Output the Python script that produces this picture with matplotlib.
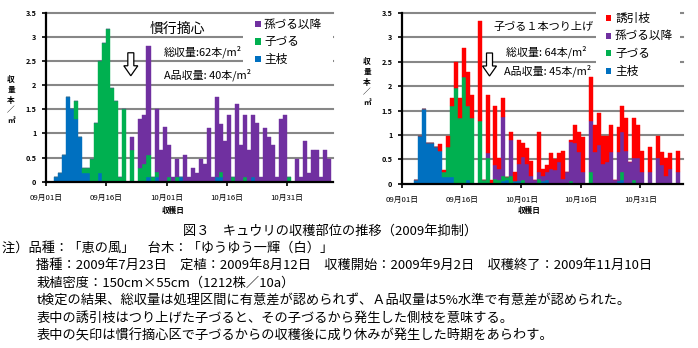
import numpy as np
import matplotlib
matplotlib.use('Agg')
import matplotlib.pyplot as plt
import matplotlib.transforms as mtransforms
from matplotlib.patches import Polygon, Rectangle

plt.rcParams['font.family'] = ['Noto Sans CJK JP', 'DejaVu Sans']

# ---------------- data ----------------
days = np.arange(71)  # days since 09/01
date_ticks = [0, 15, 30, 45, 60]
date_labels = ['09月01日', '09月16日', '10月01日', '10月16日', '10月31日']
y_ticks = [0, 0.5, 1, 1.5, 2, 2.5, 3, 3.5]
y_labels = ['0', '0.5', '1', '1.5', '2', '2.5', '3', '3.5']

series_names = ['主枝', '子づる', '孫づる以降', '誘引枝']
series_colors = ['#0070C0', '#00B050', '#7030A0', '#FF0000']

# left: 慣行摘心
left_main = [0, 0, 0.09, 0.18, 0.55, 1.75, 1.5, 1.3, 0.93, 0.18,
             0.18, 0, 0, 0.18, 0, 0, 0, 0, 0, 0,
             0, 0, 0, 0, 0, 0.1, 0, 0.1, 0, 0,
             0, 0, 0, 0.1, 0, 0, 0, 0, 0, 0,
             0, 0, 0.1, 0.1, 0, 0, 0, 0, 0, 0,
             0, 0.1, 0, 0, 0, 0, 0, 0, 0, 0,
             0, 0, 0, 0, 0, 0, 0, 0, 0, 0,
             0]
left_ko = [0, 0, 0, 0, 0, 0, 0, 0.38, 0, 0.1,
           0.1, 0.47, 1.22, 2.33, 2.88, 3.17, 1.95, 1.68, 0.1, 1.5,
           0, 0.66, 0, 0.28, 0.37, 0.46, 0.1, 0.1, 0, 0,
           0.1, 0, 0.1, 0, 0, 0, 0, 0, 0, 0,
           0, 0, 0, 0.1, 0, 0, 0.1, 0, 0, 0.1,
           0, 0, 0, 0, 0, 0, 0, 0, 0, 0,
           0.1, 0, 0, 0, 0, 0, 0, 0, 0, 0,
           0]
left_mago = [0, 0, 0, 0, 0, 0, 0, 0, 0, 0,
             0, 0, 0, 0, 0, 0, 0, 0, 0, 0,
             0, 0.27, 0, 1.02, 1.01, 2.24, 0, 1.3, 0.66, 1.13,
             0.65, 0.1, 0.38, 0, 0.56, 0.1, 0.28, 0.19, 0.47, 0.37,
             1.12, 0.1, 1.66, 1.0, 0.85, 1.38, 0, 1.6, 0.75, 1.28,
             0.66, 1.28, 1.22, 0.1, 1.12, 0.93, 0.75, 0.1, 1.3, 1.38,
             0, 0, 0.47, 0.1, 0.85, 0.18, 0.66, 0.66, 0.1, 0.66,
             0.47]

# right: 子づる1本つり上げ
right_main = [0, 0, 0, 0.07, 0.98, 1.53, 0.83, 0.83, 0.75, 0.67,
              0.14, 0.14, 0.14, 0, 0, 0, 0.07, 0, 0, 0,
              0, 0, 0, 0, 0, 0.05, 0.07, 0, 0.05, 0.05,
              0, 0, 0, 0, 0, 0.05, 0.07, 0, 0, 0,
              0, 0, 0, 0, 0, 0, 0, 0, 0, 0,
              0, 0, 0, 0, 0.05, 0.08, 0, 0, 0, 0,
              0, 0, 0, 0, 0, 0, 0, 0, 0, 0,
              0]
right_ko = [0, 0, 0, 0, 0, 0, 0, 0, 0, 0,
            0.1, 0.61, 1.45, 1.97, 1.35, 2.19, 1.52, 1.35, 0, 1.29,
            0.07, 0.52, 0, 0.1, 0.07, 0.1, 0.07, 0.16, 0, 0,
            0.07, 0, 0, 0, 0.1, 0, 0, 0, 0, 0,
            0, 0, 0.05, 0, 0, 0, 0, 0.24, 0, 0,
            0, 0, 0, 0, 0, 0.16, 0, 0, 0.07, 0,
            0, 0, 0, 0, 0, 0, 0, 0, 0, 0,
            0]
right_mago = [0, 0, 0, 0, 0, 0, 0, 0, 0, 0,
              0, 0, 0, 0, 0, 0, 0, 0, 0, 0,
              0, 0.1, 0, 0.28, 0.23, 1.21, 0, 0.74, 0, 0.35,
              0.48, 0.4, 0.15, 0.07, 0.15, 0.1, 0.18, 0.3, 0.28, 0.45,
              0.1, 0.25, 0.8, 0.84, 0.66, 0.25, 0, 1.05, 0.66, 0.8,
              0.4, 0.45, 0.66, 0.07, 0.61, 0.83, 0.68, 0.44, 0.46, 0.53,
              0.24, 0, 0.24, 0, 0.53, 0.38, 0.15, 0.3, 0, 0.25,
              0]
right_yuin = [0, 0, 0, 0, 0, 0, 0, 0, 0, 0.15,
              0.05, 0.22, 0.16, 0.53, 0.4, 0.6, 0.7, 0.47, 0, 2.04,
              0, 1.19, 0.07, 1.21, 0.23, 0.39, 0, 0.15, 0.2, 0.5,
              0.28, 0.33, 0.31, 0, 0.8, 0.15, 0.13, 0.32, 0.22, 0.17,
              0.58, 0, 0.05, 0.36, 0.39, 0.7, 0, 0.9, 0.54, 0.65,
              0.58, 0.53, 0.54, 0, 0.5, 0.53, 0.67, 0, 0.82, 0.67,
              0.44, 0, 0.51, 0, 0.45, 0.28, 0.38, 0.32, 0, 0.43,
              0]

left_title = '慣行摘心'
left_total = '総収量:62本/m²'
left_a = 'A品収量: 40本/m²'
right_title = '子づる１本つり上げ'
right_total = '総収量: 64本/m²'
right_a = 'A品収量: 45本/m²'
ylabel_chars = '収量本／㎡'
xlabel = '収穫日'

caption = '図３　キュウリの収穫部位の推移（2009年抑制）'
notes = [
    '注）品種：「恵の風」　台木：「ゆうゆう一輝（白）」',
    '播種：2009年7月23日　定植：2009年8月12日　収穫開始：2009年9月2日　収穫終了：2009年11月10日',
    '栽植密度：150cm×55cm（1212株／10a）',
    't検定の結果、総収量は処理区間に有意差が認められず、Ａ品収量は5%水準で有意差が認められた。',
    '表中の誘引枝はつり上げた子づると、その子づるから発生した側枝を意味する。',
    '表中の矢印は慣行摘心区で子づるからの収穫後に成り休みが発生した時期をあらわす。',
]

# ---------------- figure ----------------
W, H = 698, 348
fig = plt.figure(figsize=(W / 100, H / 100), dpi=100)


def fx(px):
    return px / W


def fy(py):
    return 1 - py / H


axL = fig.add_axes([fx(46), fy(181.7), (333 - 46) / W, (181.7 - 12.7) / H])
axR = fig.add_axes([fx(402.2), fy(183.7), (683 - 402.2) / W, (183.7 - 13) / H])


def style(ax, xmax):
    ax.set_xlim(0, xmax)
    ax.set_ylim(0, 3.5)
    for yt in y_ticks[1:]:
        ax.axhline(yt, color='#878787', lw=1.5, zorder=0, clip_on=False)
    ax.set_yticks(y_ticks)
    ax.set_yticklabels(y_labels, fontsize=5.2, fontweight='bold')
    ax.set_xticks(date_ticks)
    ax.set_xticklabels(date_labels, fontsize=5.6)
    for s in ['top', 'right']:
        ax.spines[s].set_visible(False)
    for s in ['left', 'bottom']:
        ax.spines[s].set_linewidth(1.6)
        ax.spines[s].set_zorder(5)
    ax.tick_params(axis='both', direction='out', length=3, width=1.2)
    ax.tick_params(axis='y', pad=4)
    ax.tick_params(axis='x', pad=6)


def stack(ax, layers):
    bottom = np.zeros(len(days))
    for vals, color in layers:
        v = np.array(vals, dtype=float)
        ax.bar(days, v, width=1.0, align='edge', bottom=bottom, color=color,
               edgecolor=color, linewidth=0.3, zorder=2)
        bottom = bottom + v


style(axL, 71.4)
style(axR, 70.75)
stack(axL, [(left_main, series_colors[0]), (left_ko, series_colors[1]),
            (left_mago, series_colors[2])])
stack(axR, [(right_main, series_colors[0]), (right_ko, series_colors[1]),
            (right_mago, series_colors[2]), (right_yuin, series_colors[3])])

# annotations inside plots
axL.text(25.9, 3.16, left_title, fontsize=10, va='center', ha='left', zorder=6)
axL.text(29.4, 2.69, left_total, fontsize=7.9, va='center', ha='left', zorder=6)
axL.text(29.4, 2.21, left_a, fontsize=7.9, va='center', ha='left', zorder=6)
axR.text(22.9, 3.21, right_title, fontsize=8.0, va='center', ha='left', zorder=6)
axR.text(26.2, 2.70, right_total, fontsize=7.9, va='center', ha='left', zorder=6)
axR.text(25.7, 2.31, right_a, fontsize=7.9, va='center', ha='left', zorder=6)


def down_arrow(ax, xd, yd):
    verts = np.array([(-3, 0), (3, 0), (3, -13), (7, -13), (0, -23),
                      (-7, -13), (-3, -13)]) / 100.0
    tr = fig.dpi_scale_trans + mtransforms.ScaledTranslation(xd, yd, ax.transData)
    ax.add_patch(Polygon(verts, closed=True, facecolor='white', edgecolor='black',
                         lw=0.9, transform=tr, zorder=6, clip_on=False))


down_arrow(axL, 21.1, 2.67)
down_arrow(axR, 22.0, 2.68)


# legends (white boxes covering gridlines), drawn inside each axes
def legend(ax, box, sq_x, txt_x, rows, idxs):
    x0, y0, x1, y1 = box
    ax.add_patch(Rectangle((fx(x0), fy(y1)), fx(x1) - fx(x0), fy(y0) - fy(y1),
                           transform=fig.transFigure, facecolor='white',
                           edgecolor='none', zorder=3, clip_on=False))
    for ry, i in zip(rows, idxs):
        ax.add_patch(Rectangle((fx(sq_x), fy(ry + 3)), 5.5 / W, 6 / H,
                               transform=fig.transFigure, clip_on=False,
                               facecolor=series_colors[i], edgecolor='none', zorder=4))
        ax.text(fx(txt_x), fy(ry), series_names[i], fontsize=8.4, va='center',
                ha='left', zorder=4, transform=fig.transFigure)


legend(axL, (243, 15, 333, 66), 255, 264, [24, 41.5, 59], [2, 1, 0])
legend(axR, (596, 10, 680, 84), 605.5, 615, [18, 35.7, 53.4, 71], [3, 2, 1, 0])

# y-axis labels (vertical stacked)
for px, py in [(11, 100), (367, 82)]:
    fig.text(fx(px), fy(py), '\n'.join(ylabel_chars), fontsize=5.5,
             fontweight='bold', ha='center', va='center', linespacing=1.15)

# x-axis labels
for px in [173, 529]:
    fig.text(fx(px), fy(210), xlabel, fontsize=5.5, fontweight='bold',
             ha='center', va='center')

# caption and notes
fig.text(fx(183), fy(231), caption, fontsize=9.5, ha='left', va='center')
note_x = [2, 36.5, 36.5, 36.5, 36.5, 36.5]
note_y = [248, 265.5, 283, 300.5, 318, 335.5]
for t, x, y in zip(notes, note_x, note_y):
    fig.text(fx(x), fy(y), t, fontsize=9.5, ha='left', va='center')

fig.savefig('out.png', dpi=100)
